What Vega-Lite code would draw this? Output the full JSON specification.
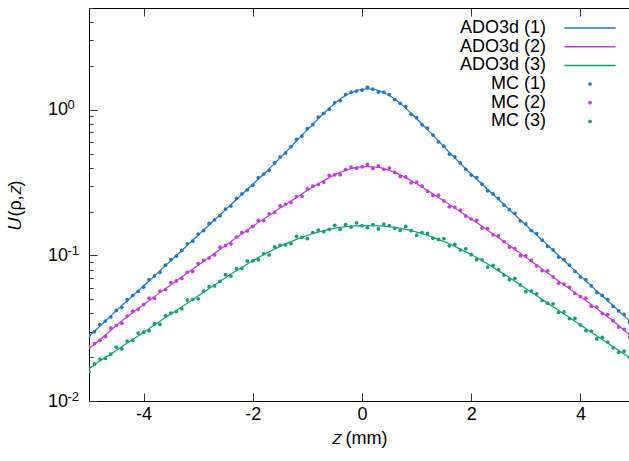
{
  "$schema": "https://vega.github.io/schema/vega-lite/v6.json",
  "width": 540,
  "height": 393,
  "autosize": {"type": "none"},
  "padding": {"left": 89, "top": 8, "right": 0, "bottom": 60},
  "config": {
    "view": {"stroke": null},
    "font": "Liberation Sans",
    "axis": {"labelFont": "Liberation Sans", "labelFontSize": 18, "labelColor": "#000", "titleFont": "Liberation Sans", "titleFontSize": 18, "titleFontWeight": "normal", "titleColor": "#000", "domainColor": "#000", "domainWidth": 1, "tickColor": "#333", "tickWidth": 1, "grid": false, "labelOverlap": false, "labelFlush": false},
    "legend": {"labelFont": "Liberation Sans", "labelFontSize": 18, "labelColor": "#000", "padding": 0, "rowPadding": 0.7, "title": null}
  },
  "data": {"values": [
    {"z": -5.0, "ADO3d (1)": 0.0278, "ADO3d (2)": 0.0229, "ADO3d (3)": 0.0167, "MC (1)": 0.0282, "MC (2)": 0.0234, "MC (3)": 0.0159},
    {"z": -4.9, "ADO3d (1)": 0.0301, "ADO3d (2)": 0.0245, "ADO3d (3)": 0.0177, "MC (1)": 0.0299, "MC (2)": 0.0248, "MC (3)": 0.0180},
    {"z": -4.8, "ADO3d (1)": 0.0327, "ADO3d (2)": 0.0264, "ADO3d (3)": 0.0188, "MC (1)": 0.0335, "MC (2)": 0.0261, "MC (3)": 0.0194},
    {"z": -4.7, "ADO3d (1)": 0.0354, "ADO3d (2)": 0.0284, "ADO3d (3)": 0.0199, "MC (1)": 0.0354, "MC (2)": 0.0277, "MC (3)": 0.0196},
    {"z": -4.6, "ADO3d (1)": 0.0384, "ADO3d (2)": 0.0306, "ADO3d (3)": 0.0210, "MC (1)": 0.0378, "MC (2)": 0.0317, "MC (3)": 0.0210},
    {"z": -4.5, "ADO3d (1)": 0.0416, "ADO3d (2)": 0.0330, "ADO3d (3)": 0.0223, "MC (1)": 0.0419, "MC (2)": 0.0330, "MC (3)": 0.0234},
    {"z": -4.4, "ADO3d (1)": 0.0451, "ADO3d (2)": 0.0355, "ADO3d (3)": 0.0236, "MC (1)": 0.0440, "MC (2)": 0.0342, "MC (3)": 0.0228},
    {"z": -4.3, "ADO3d (1)": 0.0488, "ADO3d (2)": 0.0378, "ADO3d (3)": 0.0250, "MC (1)": 0.0496, "MC (2)": 0.0383, "MC (3)": 0.0258},
    {"z": -4.2, "ADO3d (1)": 0.0527, "ADO3d (2)": 0.0404, "ADO3d (3)": 0.0265, "MC (1)": 0.0531, "MC (2)": 0.0414, "MC (3)": 0.0261},
    {"z": -4.1, "ADO3d (1)": 0.0570, "ADO3d (2)": 0.0431, "ADO3d (3)": 0.0280, "MC (1)": 0.0565, "MC (2)": 0.0426, "MC (3)": 0.0293},
    {"z": -4.0, "ADO3d (1)": 0.0617, "ADO3d (2)": 0.0459, "ADO3d (3)": 0.0297, "MC (1)": 0.0607, "MC (2)": 0.0459, "MC (3)": 0.0297},
    {"z": -3.9, "ADO3d (1)": 0.0667, "ADO3d (2)": 0.0490, "ADO3d (3)": 0.0314, "MC (1)": 0.0683, "MC (2)": 0.0508, "MC (3)": 0.0304},
    {"z": -3.8, "ADO3d (1)": 0.0723, "ADO3d (2)": 0.0521, "ADO3d (3)": 0.0333, "MC (1)": 0.0723, "MC (2)": 0.0508, "MC (3)": 0.0338},
    {"z": -3.7, "ADO3d (1)": 0.0784, "ADO3d (2)": 0.0555, "ADO3d (3)": 0.0353, "MC (1)": 0.0765, "MC (2)": 0.0568, "MC (3)": 0.0336},
    {"z": -3.6, "ADO3d (1)": 0.0850, "ADO3d (2)": 0.0590, "ADO3d (3)": 0.0374, "MC (1)": 0.0857, "MC (2)": 0.0583, "MC (3)": 0.0386},
    {"z": -3.5, "ADO3d (1)": 0.0921, "ADO3d (2)": 0.0628, "ADO3d (3)": 0.0396, "MC (1)": 0.0936, "MC (2)": 0.0651, "MC (3)": 0.0402},
    {"z": -3.4, "ADO3d (1)": 0.0998, "ADO3d (2)": 0.0668, "ADO3d (3)": 0.0419, "MC (1)": 0.0990, "MC (2)": 0.0668, "MC (3)": 0.0412},
    {"z": -3.3, "ADO3d (1)": 0.1082, "ADO3d (2)": 0.0711, "ADO3d (3)": 0.0444, "MC (1)": 0.1082, "MC (2)": 0.0694, "MC (3)": 0.0430},
    {"z": -3.2, "ADO3d (1)": 0.1173, "ADO3d (2)": 0.0757, "ADO3d (3)": 0.0470, "MC (1)": 0.1201, "MC (2)": 0.0766, "MC (3)": 0.0493},
    {"z": -3.1, "ADO3d (1)": 0.1271, "ADO3d (2)": 0.0805, "ADO3d (3)": 0.0498, "MC (1)": 0.1251, "MC (2)": 0.0776, "MC (3)": 0.0498},
    {"z": -3.0, "ADO3d (1)": 0.1378, "ADO3d (2)": 0.0857, "ADO3d (3)": 0.0528, "MC (1)": 0.1400, "MC (2)": 0.0878, "MC (3)": 0.0503},
    {"z": -2.9, "ADO3d (1)": 0.1493, "ADO3d (2)": 0.0912, "ADO3d (3)": 0.0559, "MC (1)": 0.1481, "MC (2)": 0.0923, "MC (3)": 0.0568},
    {"z": -2.8, "ADO3d (1)": 0.1618, "ADO3d (2)": 0.0971, "ADO3d (3)": 0.0592, "MC (1)": 0.1657, "MC (2)": 0.0959, "MC (3)": 0.0611},
    {"z": -2.7, "ADO3d (1)": 0.1754, "ADO3d (2)": 0.1033, "ADO3d (3)": 0.0627, "MC (1)": 0.1754, "MC (2)": 0.1008, "MC (3)": 0.0617},
    {"z": -2.6, "ADO3d (1)": 0.1901, "ADO3d (2)": 0.1099, "ADO3d (3)": 0.0664, "MC (1)": 0.1871, "MC (2)": 0.1139, "MC (3)": 0.0664},
    {"z": -2.5, "ADO3d (1)": 0.2061, "ADO3d (2)": 0.1169, "ADO3d (3)": 0.0703, "MC (1)": 0.2077, "MC (2)": 0.1169, "MC (3)": 0.0737},
    {"z": -2.4, "ADO3d (1)": 0.2234, "ADO3d (2)": 0.1245, "ADO3d (3)": 0.0745, "MC (1)": 0.2180, "MC (2)": 0.1200, "MC (3)": 0.0721},
    {"z": -2.3, "ADO3d (1)": 0.2421, "ADO3d (2)": 0.1321, "ADO3d (3)": 0.0785, "MC (1)": 0.2460, "MC (2)": 0.1337, "MC (3)": 0.0810},
    {"z": -2.2, "ADO3d (1)": 0.2624, "ADO3d (2)": 0.1403, "ADO3d (3)": 0.0828, "MC (1)": 0.2645, "MC (2)": 0.1437, "MC (3)": 0.0815},
    {"z": -2.1, "ADO3d (1)": 0.2844, "ADO3d (2)": 0.1489, "ADO3d (3)": 0.0873, "MC (1)": 0.2821, "MC (2)": 0.1471, "MC (3)": 0.0915},
    {"z": -2.0, "ADO3d (1)": 0.3083, "ADO3d (2)": 0.1581, "ADO3d (3)": 0.0918, "MC (1)": 0.3034, "MC (2)": 0.1581, "MC (3)": 0.0918},
    {"z": -1.9, "ADO3d (1)": 0.334, "ADO3d (2)": 0.1679, "ADO3d (3)": 0.0966, "MC (1)": 0.3420, "MC (2)": 0.1739, "MC (3)": 0.0935},
    {"z": -1.8, "ADO3d (1)": 0.362, "ADO3d (2)": 0.1778, "ADO3d (3)": 0.1012, "MC (1)": 0.362, "MC (2)": 0.1735, "MC (3)": 0.1028},
    {"z": -1.7, "ADO3d (1)": 0.393, "ADO3d (2)": 0.1884, "ADO3d (3)": 0.1059, "MC (1)": 0.3836, "MC (2)": 0.1929, "MC (3)": 0.1008},
    {"z": -1.6, "ADO3d (1)": 0.428, "ADO3d (2)": 0.1995, "ADO3d (3)": 0.1107, "MC (1)": 0.4314, "MC (2)": 0.1971, "MC (3)": 0.1142},
    {"z": -1.5, "ADO3d (1)": 0.467, "ADO3d (2)": 0.2113, "ADO3d (3)": 0.1153, "MC (1)": 0.4745, "MC (2)": 0.2189, "MC (3)": 0.1171},
    {"z": -1.4, "ADO3d (1)": 0.509, "ADO3d (2)": 0.2239, "ADO3d (3)": 0.1202, "MC (1)": 0.5049, "MC (2)": 0.2239, "MC (3)": 0.1183},
    {"z": -1.3, "ADO3d (1)": 0.558, "ADO3d (2)": 0.2366, "ADO3d (3)": 0.1245, "MC (1)": 0.558, "MC (2)": 0.2309, "MC (3)": 0.1205},
    {"z": -1.2, "ADO3d (1)": 0.612, "ADO3d (2)": 0.2500, "ADO3d (3)": 0.1288, "MC (1)": 0.6267, "MC (2)": 0.2530, "MC (3)": 0.1350},
    {"z": -1.1, "ADO3d (1)": 0.670, "ADO3d (2)": 0.2642, "ADO3d (3)": 0.1330, "MC (1)": 0.6593, "MC (2)": 0.2547, "MC (3)": 0.1330},
    {"z": -1.0, "ADO3d (1)": 0.731, "ADO3d (2)": 0.2793, "ADO3d (3)": 0.1371, "MC (1)": 0.7427, "MC (2)": 0.2860, "MC (3)": 0.1305},
    {"z": -0.9, "ADO3d (1)": 0.796, "ADO3d (2)": 0.2951, "ADO3d (3)": 0.1413, "MC (1)": 0.7896, "MC (2)": 0.2986, "MC (3)": 0.1436},
    {"z": -0.8, "ADO3d (1)": 0.869, "ADO3d (2)": 0.3105, "ADO3d (3)": 0.1445, "MC (1)": 0.8899, "MC (2)": 0.3068, "MC (3)": 0.1491},
    {"z": -0.7, "ADO3d (1)": 0.946, "ADO3d (2)": 0.3266, "ADO3d (3)": 0.1479, "MC (1)": 0.946, "MC (2)": 0.3188, "MC (3)": 0.1455},
    {"z": -0.6, "ADO3d (1)": 1.026, "ADO3d (2)": 0.3420, "ADO3d (3)": 0.1510, "MC (1)": 1.0096, "MC (2)": 0.3543, "MC (3)": 0.1510},
    {"z": -0.5, "ADO3d (1)": 1.107, "ADO3d (2)": 0.3573, "ADO3d (3)": 0.1535, "MC (1)": 1.1159, "MC (2)": 0.3573, "MC (3)": 0.1609},
    {"z": -0.4, "ADO3d (1)": 1.186, "ADO3d (2)": 0.3715, "ADO3d (3)": 0.1560, "MC (1)": 1.1575, "MC (2)": 0.3581, "MC (3)": 0.1510},
    {"z": -0.3, "ADO3d (1)": 1.253, "ADO3d (2)": 0.3837, "ADO3d (3)": 0.1574, "MC (1)": 1.2730, "MC (2)": 0.3883, "MC (3)": 0.1624},
    {"z": -0.2, "ADO3d (1)": 1.309, "ADO3d (2)": 0.3945, "ADO3d (3)": 0.1589, "MC (1)": 1.3195, "MC (2)": 0.4040, "MC (3)": 0.1564},
    {"z": -0.1, "ADO3d (1)": 1.355, "ADO3d (2)": 0.4018, "ADO3d (3)": 0.1596, "MC (1)": 1.3442, "MC (2)": 0.3970, "MC (3)": 0.1673},
    {"z": 0.0, "ADO3d (1)": 1.384, "ADO3d (2)": 0.4055, "ADO3d (3)": 0.1601, "MC (1)": 1.3619, "MC (2)": 0.4055, "MC (3)": 0.1601},
    {"z": 0.1, "ADO3d (1)": 1.393, "ADO3d (2)": 0.4074, "ADO3d (3)": 0.1603, "MC (1)": 1.4264, "MC (2)": 0.4221, "MC (3)": 0.1552},
    {"z": 0.2, "ADO3d (1)": 1.384, "ADO3d (2)": 0.4055, "ADO3d (3)": 0.1601, "MC (1)": 1.384, "MC (2)": 0.3958, "MC (3)": 0.1627},
    {"z": 0.3, "ADO3d (1)": 1.355, "ADO3d (2)": 0.4018, "ADO3d (3)": 0.1596, "MC (1)": 1.3225, "MC (2)": 0.4114, "MC (3)": 0.1519},
    {"z": 0.4, "ADO3d (1)": 1.309, "ADO3d (2)": 0.3945, "ADO3d (3)": 0.1589, "MC (1)": 1.3195, "MC (2)": 0.3898, "MC (3)": 0.1640},
    {"z": 0.5, "ADO3d (1)": 1.253, "ADO3d (2)": 0.3837, "ADO3d (3)": 0.1574, "MC (1)": 1.2730, "MC (2)": 0.3975, "MC (3)": 0.1599},
    {"z": 0.6, "ADO3d (1)": 1.186, "ADO3d (2)": 0.3715, "ADO3d (3)": 0.1560, "MC (1)": 1.1765, "MC (2)": 0.3715, "MC (3)": 0.1535},
    {"z": 0.7, "ADO3d (1)": 1.107, "ADO3d (2)": 0.3573, "ADO3d (3)": 0.1535, "MC (1)": 1.107, "MC (2)": 0.3487, "MC (3)": 0.1486},
    {"z": 0.8, "ADO3d (1)": 1.026, "ADO3d (2)": 0.3420, "ADO3d (3)": 0.1510, "MC (1)": 1.0506, "MC (2)": 0.3461, "MC (3)": 0.1582},
    {"z": 0.9, "ADO3d (1)": 0.946, "ADO3d (2)": 0.3266, "ADO3d (3)": 0.1479, "MC (1)": 0.9309, "MC (2)": 0.3148, "MC (3)": 0.1479},
    {"z": 1.0, "ADO3d (1)": 0.869, "ADO3d (2)": 0.3105, "ADO3d (3)": 0.1445, "MC (1)": 0.8829, "MC (2)": 0.3180, "MC (3)": 0.1376},
    {"z": 1.1, "ADO3d (1)": 0.796, "ADO3d (2)": 0.2951, "ADO3d (3)": 0.1413, "MC (1)": 0.7896, "MC (2)": 0.2986, "MC (3)": 0.1436},
    {"z": 1.2, "ADO3d (1)": 0.731, "ADO3d (2)": 0.2793, "ADO3d (3)": 0.1371, "MC (1)": 0.7485, "MC (2)": 0.2759, "MC (3)": 0.1415},
    {"z": 1.3, "ADO3d (1)": 0.670, "ADO3d (2)": 0.2642, "ADO3d (3)": 0.1330, "MC (1)": 0.670, "MC (2)": 0.2579, "MC (3)": 0.1309},
    {"z": 1.4, "ADO3d (1)": 0.612, "ADO3d (2)": 0.2500, "ADO3d (3)": 0.1288, "MC (1)": 0.6022, "MC (2)": 0.2590, "MC (3)": 0.1288},
    {"z": 1.5, "ADO3d (1)": 0.558, "ADO3d (2)": 0.2366, "ADO3d (3)": 0.1245, "MC (1)": 0.5625, "MC (2)": 0.2366, "MC (3)": 0.1305},
    {"z": 1.6, "ADO3d (1)": 0.509, "ADO3d (2)": 0.2239, "ADO3d (3)": 0.1202, "MC (1)": 0.4968, "MC (2)": 0.2158, "MC (3)": 0.1164},
    {"z": 1.7, "ADO3d (1)": 0.467, "ADO3d (2)": 0.2113, "ADO3d (3)": 0.1153, "MC (1)": 0.4745, "MC (2)": 0.2138, "MC (3)": 0.1190},
    {"z": 1.8, "ADO3d (1)": 0.428, "ADO3d (2)": 0.1995, "ADO3d (3)": 0.1107, "MC (1)": 0.4314, "MC (2)": 0.2043, "MC (3)": 0.1089},
    {"z": 1.9, "ADO3d (1)": 0.393, "ADO3d (2)": 0.1884, "ADO3d (3)": 0.1059, "MC (1)": 0.3899, "MC (2)": 0.1861, "MC (3)": 0.1110},
    {"z": 2.0, "ADO3d (1)": 0.362, "ADO3d (2)": 0.1778, "ADO3d (3)": 0.1012, "MC (1)": 0.3562, "MC (2)": 0.1778, "MC (3)": 0.1012},
    {"z": 2.1, "ADO3d (1)": 0.334, "ADO3d (2)": 0.1679, "ADO3d (3)": 0.0966, "MC (1)": 0.3420, "MC (2)": 0.1739, "MC (3)": 0.0935},
    {"z": 2.2, "ADO3d (1)": 0.3083, "ADO3d (2)": 0.1581, "ADO3d (3)": 0.0918, "MC (1)": 0.3083, "MC (2)": 0.1543, "MC (3)": 0.0933},
    {"z": 2.3, "ADO3d (1)": 0.2844, "ADO3d (2)": 0.1489, "ADO3d (3)": 0.0873, "MC (1)": 0.2776, "MC (2)": 0.1525, "MC (3)": 0.0831},
    {"z": 2.4, "ADO3d (1)": 0.2624, "ADO3d (2)": 0.1403, "ADO3d (3)": 0.0828, "MC (1)": 0.2645, "MC (2)": 0.1386, "MC (3)": 0.0854},
    {"z": 2.5, "ADO3d (1)": 0.2421, "ADO3d (2)": 0.1321, "ADO3d (3)": 0.0785, "MC (1)": 0.2460, "MC (2)": 0.1369, "MC (3)": 0.0798},
    {"z": 2.6, "ADO3d (1)": 0.2234, "ADO3d (2)": 0.1245, "ADO3d (3)": 0.0745, "MC (1)": 0.2216, "MC (2)": 0.1245, "MC (3)": 0.0733},
    {"z": 2.7, "ADO3d (1)": 0.2061, "ADO3d (2)": 0.1169, "ADO3d (3)": 0.0703, "MC (1)": 0.2061, "MC (2)": 0.1141, "MC (3)": 0.0681},
    {"z": 2.8, "ADO3d (1)": 0.1901, "ADO3d (2)": 0.1099, "ADO3d (3)": 0.0664, "MC (1)": 0.1947, "MC (2)": 0.1112, "MC (3)": 0.0696},
    {"z": 2.9, "ADO3d (1)": 0.1754, "ADO3d (2)": 0.1033, "ADO3d (3)": 0.0627, "MC (1)": 0.1726, "MC (2)": 0.0996, "MC (3)": 0.0627},
    {"z": 3.0, "ADO3d (1)": 0.1618, "ADO3d (2)": 0.0971, "ADO3d (3)": 0.0592, "MC (1)": 0.1644, "MC (2)": 0.0994, "MC (3)": 0.0564},
    {"z": 3.1, "ADO3d (1)": 0.1493, "ADO3d (2)": 0.0912, "ADO3d (3)": 0.0559, "MC (1)": 0.1481, "MC (2)": 0.0923, "MC (3)": 0.0568},
    {"z": 3.2, "ADO3d (1)": 0.1378, "ADO3d (2)": 0.0857, "ADO3d (3)": 0.0528, "MC (1)": 0.1411, "MC (2)": 0.0847, "MC (3)": 0.0545},
    {"z": 3.3, "ADO3d (1)": 0.1271, "ADO3d (2)": 0.0805, "ADO3d (3)": 0.0498, "MC (1)": 0.1271, "MC (2)": 0.0786, "MC (3)": 0.0490},
    {"z": 3.4, "ADO3d (1)": 0.1173, "ADO3d (2)": 0.0757, "ADO3d (3)": 0.0470, "MC (1)": 0.1154, "MC (2)": 0.0784, "MC (3)": 0.0470},
    {"z": 3.5, "ADO3d (1)": 0.1082, "ADO3d (2)": 0.0711, "ADO3d (3)": 0.0444, "MC (1)": 0.1091, "MC (2)": 0.0711, "MC (3)": 0.0465},
    {"z": 3.6, "ADO3d (1)": 0.0998, "ADO3d (2)": 0.0668, "ADO3d (3)": 0.0419, "MC (1)": 0.0974, "MC (2)": 0.0644, "MC (3)": 0.0406},
    {"z": 3.7, "ADO3d (1)": 0.0921, "ADO3d (2)": 0.0628, "ADO3d (3)": 0.0396, "MC (1)": 0.0936, "MC (2)": 0.0636, "MC (3)": 0.0409},
    {"z": 3.8, "ADO3d (1)": 0.0850, "ADO3d (2)": 0.0590, "ADO3d (3)": 0.0374, "MC (1)": 0.0857, "MC (2)": 0.0604, "MC (3)": 0.0368},
    {"z": 3.9, "ADO3d (1)": 0.0784, "ADO3d (2)": 0.0555, "ADO3d (3)": 0.0353, "MC (1)": 0.0778, "MC (2)": 0.0548, "MC (3)": 0.0370},
    {"z": 4.0, "ADO3d (1)": 0.0723, "ADO3d (2)": 0.0521, "ADO3d (3)": 0.0333, "MC (1)": 0.0711, "MC (2)": 0.0521, "MC (3)": 0.0333},
    {"z": 4.1, "ADO3d (1)": 0.0667, "ADO3d (2)": 0.0490, "ADO3d (3)": 0.0314, "MC (1)": 0.0683, "MC (2)": 0.0508, "MC (3)": 0.0304},
    {"z": 4.2, "ADO3d (1)": 0.0617, "ADO3d (2)": 0.0459, "ADO3d (3)": 0.0297, "MC (1)": 0.0617, "MC (2)": 0.0448, "MC (3)": 0.0302},
    {"z": 4.3, "ADO3d (1)": 0.0570, "ADO3d (2)": 0.0431, "ADO3d (3)": 0.0280, "MC (1)": 0.0556, "MC (2)": 0.0441, "MC (3)": 0.0267},
    {"z": 4.4, "ADO3d (1)": 0.0527, "ADO3d (2)": 0.0404, "ADO3d (3)": 0.0265, "MC (1)": 0.0531, "MC (2)": 0.0399, "MC (3)": 0.0273},
    {"z": 4.5, "ADO3d (1)": 0.0488, "ADO3d (2)": 0.0378, "ADO3d (3)": 0.0250, "MC (1)": 0.0496, "MC (2)": 0.0392, "MC (3)": 0.0254},
    {"z": 4.6, "ADO3d (1)": 0.0451, "ADO3d (2)": 0.0355, "ADO3d (3)": 0.0236, "MC (1)": 0.0447, "MC (2)": 0.0355, "MC (3)": 0.0232},
    {"z": 4.7, "ADO3d (1)": 0.0416, "ADO3d (2)": 0.0330, "ADO3d (3)": 0.0223, "MC (1)": 0.0416, "MC (2)": 0.0322, "MC (3)": 0.0216},
    {"z": 4.8, "ADO3d (1)": 0.0384, "ADO3d (2)": 0.0306, "ADO3d (3)": 0.0210, "MC (1)": 0.0393, "MC (2)": 0.0310, "MC (3)": 0.0220},
    {"z": 4.9, "ADO3d (1)": 0.0354, "ADO3d (2)": 0.0284, "ADO3d (3)": 0.0199, "MC (1)": 0.0348, "MC (2)": 0.0274, "MC (3)": 0.0199},
    {"z": 5.0, "ADO3d (1)": 0.0327, "ADO3d (2)": 0.0264, "ADO3d (3)": 0.0188, "MC (1)": 0.0332, "MC (2)": 0.0270, "MC (3)": 0.0179}
  ]},
  "layer": [
    {
      "transform": [{"fold": ["ADO3d (1)", "ADO3d (2)", "ADO3d (3)"], "as": ["series", "U"]}],
      "mark": {"type": "line", "clip": true, "strokeWidth": 1.2, "interpolate": "monotone"},
      "encoding": {
        "x": {"field": "z", "type": "quantitative", "scale": {"domain": [-5, 4.89], "nice": false, "zero": false},
              "axis": {"orient": "bottom", "values": [-4, -2, 0, 2, 4], "labelExpr": "datum.value < 0 ? '-' + abs(datum.value) : '' + datum.value", "title": "𝑧 (mm)", "tickSize": -8, "labelPadding": 12, "titlePadding": 6}},
        "y": {"field": "U", "type": "quantitative", "scale": {"type": "log", "domain": [0.01, 5], "nice": false},
              "axis": {"orient": "left", "values": [0.01, 0.02, 0.03, 0.04, 0.05, 0.06, 0.07, 0.08, 0.09, 0.1, 0.2, 0.3, 0.4, 0.5, 0.6, 0.7, 0.8, 0.9, 1, 2, 3, 4, 5],
                       "labelExpr": "datum.value==1||datum.value==0.1||datum.value==0.01?'10':''",
                       "tickSize": {"condition": {"test": "datum.value==1||datum.value==0.1||datum.value==0.01", "value": -8}, "value": -4},
                       "labelPadding": 29.5, "title": "𝑈(ρ,𝑧)", "titlePadding": 22.5}},
        "color": {"field": "series", "type": "nominal",
                  "scale": {"domain": ["ADO3d (1)", "ADO3d (2)", "ADO3d (3)"], "range": ["#1f78c1", "#c23bdc", "#12a079"]},
                  "legend": {"orient": "none", "legendX": 492, "legendY": 11, "symbolType": "M-13.7,0H13.7", "symbolSize": 14, "symbolStrokeWidth": 1.5, "labelAlign": "right", "labelOffset": -53, "title": null}}
      }
    },
    {
      "transform": [{"fold": ["MC (1)", "MC (2)", "MC (3)"], "as": ["series", "U"]}],
      "mark": {"type": "circle", "clip": true, "size": 14, "opacity": 1},
      "encoding": {
        "x": {"field": "z", "type": "quantitative", "scale": {"domain": [-5, 4.89], "nice": false, "zero": false},
              "axis": {"orient": "top", "values": [-4, -2, 0, 2, 4], "labels": false, "title": null, "tickSize": -8}},
        "y": {"field": "U", "type": "quantitative", "scale": {"type": "log", "domain": [0.01, 5], "nice": false},
              "axis": {"orient": "left", "values": [0.01, 0.1, 1],
                       "labelExpr": "datum.value==1?'0':datum.value==0.1?'-1':'-2'",
                       "ticks": false, "domain": false, "labelFontSize": 13, "labelAlign": "left", "labelOffset": -5,
                       "labelPadding": 22, "title": null}},
        "fill": {"field": "series", "type": "nominal",
                 "scale": {"domain": ["MC (1)", "MC (2)", "MC (3)"], "range": ["#1f78c1", "#c23bdc", "#12a079"]},
                 "legend": {"orient": "none", "legendX": 492, "legendY": 67, "symbolType": "circle", "symbolSize": 14, "symbolStrokeWidth": 0, "labelAlign": "right", "labelOffset": -53, "title": null}}
      }
    }
  ],
  "resolve": {"axis": {"x": "independent", "y": "independent"}}
}
